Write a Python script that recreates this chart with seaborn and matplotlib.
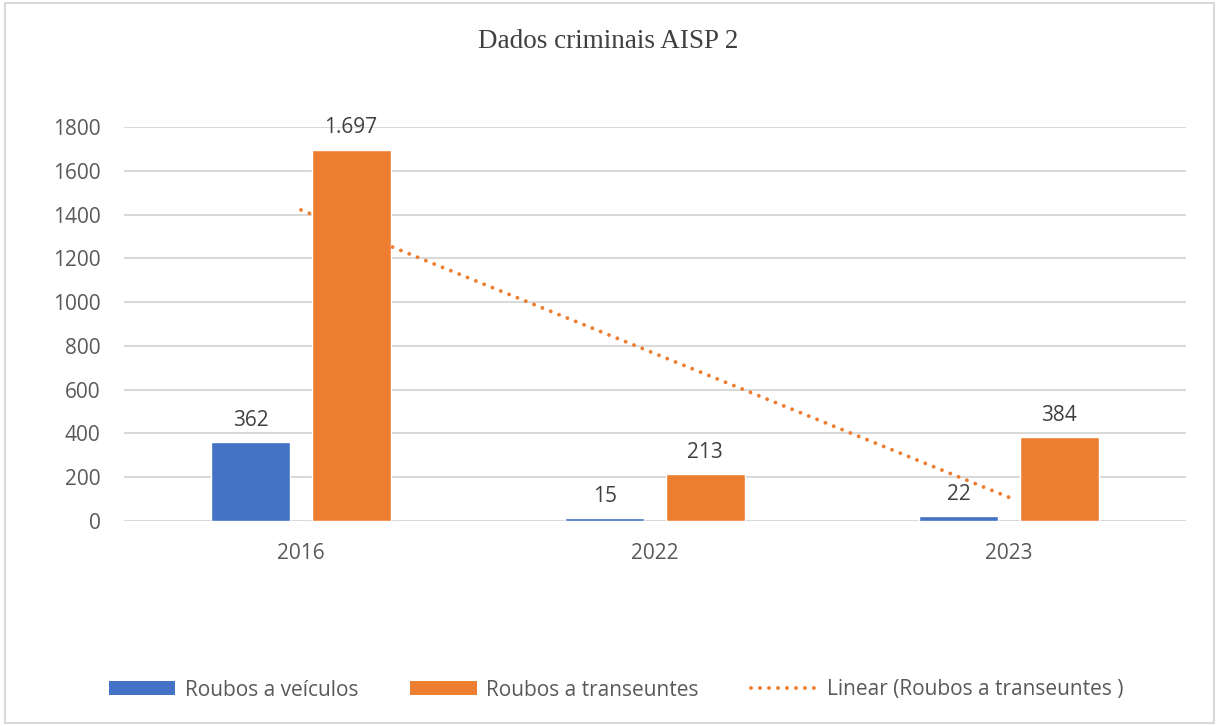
import numpy as np
import pandas as pd
import matplotlib
matplotlib.use("Agg")
import matplotlib.pyplot as plt
from matplotlib.patches import Patch, Rectangle
from matplotlib.lines import Line2D
import seaborn as sns

# ---- data ----
years = ["2016", "2022", "2023"]
roubos_veiculos = [362, 15, 22]
roubos_transeuntes = [1697, 213, 384]
series_names = ["Roubos a veículos", "Roubos a transeuntes"]
trend_name = "Linear (Roubos a transeuntes )"
title = "Dados criminais AISP 2"
yticks = [0, 200, 400, 600, 800, 1000, 1200, 1400, 1600, 1800]

BLUE = "#4472C4"
ORANGE = "#ED7D31"
TXT = "#595959"
GRID = "#D9D9D9"
FS = 15

sns.set_theme(style="white")
plt.rcParams["font.family"] = ["Open Sans", "DejaVu Sans"]

df = pd.DataFrame({
    "year": years * 2,
    "series": [series_names[0]] * 3 + [series_names[1]] * 3,
    "value": roubos_veiculos + roubos_transeuntes,
})

fig = plt.figure(figsize=(12.16, 7.26), dpi=100)
ax = fig.add_axes([124 / 1216, 1 - 521 / 726, (1186 - 124) / 1216, (521 - 127) / 726])

sns.barplot(data=df, x="year", y="value", hue="series", order=years,
            hue_order=series_names, palette=[BLUE, ORANGE], saturation=1,
            width=0.566, gap=0.21, ax=ax, legend=False, errorbar=None)

def fmt(v):
    return f"{v:,}".replace(",", ".")

for cont, vals in zip(ax.containers, [roubos_veiculos, roubos_transeuntes]):
    ax.bar_label(cont, labels=[fmt(v) for v in vals], padding=8,
                 fontsize=FS, color="#404040")

# linear trendline for Roubos a transeuntes (Excel uses x = 1..n)
xs = np.arange(1, len(years) + 1)
slope, intercept = np.polyfit(xs, roubos_transeuntes, 1)
xpos = np.arange(len(years))
DOT = (0, (0.01, 2.3))
ax.plot([xpos[0], xpos[-1]], [slope * xs[0] + intercept, slope * xs[-1] + intercept],
        color=ORANGE, linewidth=2.8, linestyle=DOT,
        dash_capstyle="round", zorder=3)

ax.set_xlim(-0.5, len(years) - 0.5)
ax.set_ylim(0, 1800)
ax.set_yticks(yticks)
ax.set_yticklabels([str(t) for t in yticks])
ax.set_xlabel("")
ax.set_ylabel("")
ax.grid(axis="y", color=GRID, linewidth=1.5)
ax.set_axisbelow(True)
for s in ax.spines.values():
    s.set_visible(False)
ax.tick_params(axis="y", length=0, pad=17, labelsize=FS, labelcolor=TXT)
ax.tick_params(axis="x", length=0, pad=16, labelsize=FS, labelcolor=TXT)

fig.text(0.5, 1 - 42 / 726, title, ha="center", va="center",
         fontfamily="Liberation Serif", fontsize=19.5, color="#404040")

handles = [Patch(facecolor=BLUE, edgecolor="none"),
           Patch(facecolor=ORANGE, edgecolor="none"),
           Line2D([0], [0], color=ORANGE, linewidth=2.8,
                  linestyle=DOT, dash_capstyle="round")]
leg = fig.legend(handles, series_names + [trend_name], loc="center",
                 bbox_to_anchor=(616 / 1216, 1 - 690 / 726), ncol=3,
                 frameon=False, fontsize=FS, handlelength=3.2, handleheight=0.62,
                 handletextpad=0.45, columnspacing=2.5, labelcolor=TXT)

fig.patches.append(Rectangle((5 / 1216, 3 / 726), (1214 - 5) / 1216, (723 - 3) / 726,
                             transform=fig.transFigure, fill=False,
                             edgecolor=GRID, linewidth=1.5))

fig.savefig("out.png", dpi=100)
